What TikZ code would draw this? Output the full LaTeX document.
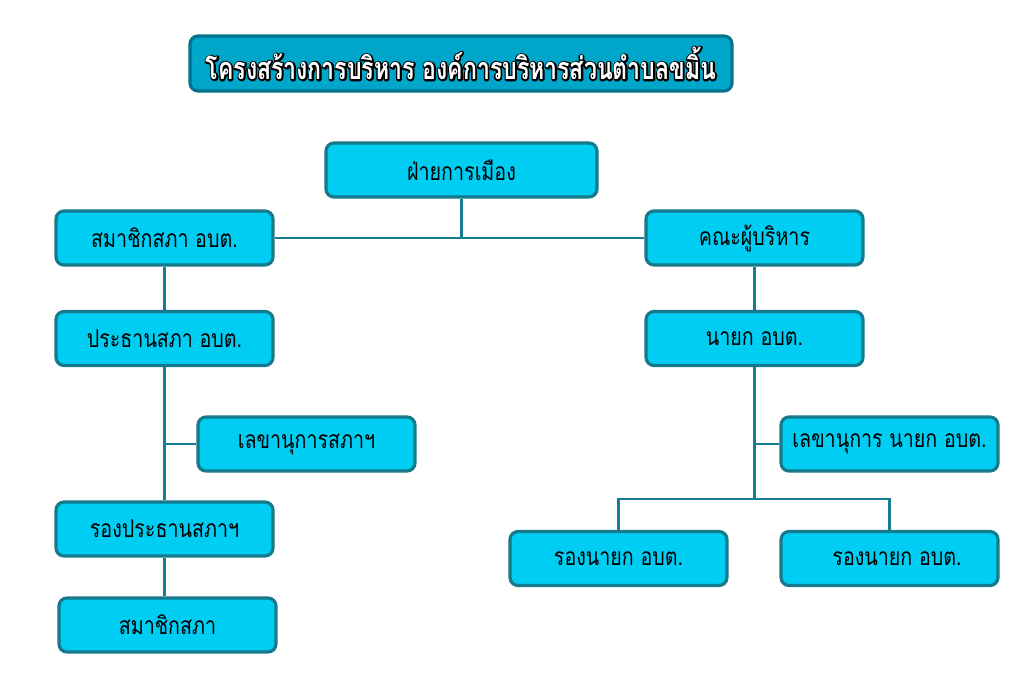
\documentclass[tikz,border=0pt]{standalone}
\usepackage{fontspec}
\usepackage{tikz}
\newfontfamily\thaifont[Script=Thai,FakeStretch=0.8]{Loma}
\newfontfamily\titlefont[Script=Thai,FakeStretch=0.75]{Loma}
\definecolor{boxfill}{HTML}{00CDF2}
\definecolor{boxline}{HTML}{17798C}
\definecolor{linkcol}{HTML}{157D94}
\definecolor{titlefill}{HTML}{00A6C9}
\newcommand{\outlined}[1]{\rlap{\special{pdf:literal direct 1 Tr 1.8 w 1 J 1 j 0 0 0 RG}#1\special{pdf:literal direct 0 Tr}}#1}
\tikzset{
  box/.style={draw=boxline, line width=1.8pt, fill=boxfill, rounded corners=0.16cm,
    minimum width=4.34cm, minimum height=1.08cm, font=\thaifont\fontsize{14}{16}\selectfont},
  link/.style={draw=linkcol, line width=1.4pt}
}
\begin{document}
\begin{tikzpicture}
\useasboundingbox (0,0) rectangle (20.24,-13.8);
\node[box, draw=titlefill!70!black, fill=titlefill, line width=1.8pt, minimum width=10.84cm, minimum height=1.1cm,
  text=white, font=\titlefont\bfseries\fontsize{17.5}{20}\selectfont] (title) at (9.22,-1.27)
  {\outlined{โครงสร้างการบริหาร องค์การบริหารส่วนตำบลขมิ้น}};
\node[box, minimum width=5.42cm] (pol) at (9.23,-3.40) {ฝ่ายการเมือง};
\node[box] (mem) at (3.29,-4.76) {สมาชิกสภา อบต.};
\node[box] (exe) at (15.09,-4.76) {คณะผู้บริหาร};
\node[box] (chair) at (3.29,-6.77) {ประธานสภา อบต.};
\node[box] (mayor) at (15.09,-6.77) {นายก อบต.};
\node[box] (secc) at (6.13,-8.88) {เลขานุการสภาฯ};
\node[box] (secm) at (17.79,-8.88) {เลขานุการ นายก อบต.};
\node[box] (vchair) at (3.29,-10.58) {รองประธานสภาฯ};
\node[box] (vm1) at (12.37,-11.17) {รองนายก อบต.};
\node[box] (vm2) at (17.79,-11.17) {\hspace*{0.3cm}รองนายก อบต.};
\node[box] (memb) at (3.35,-12.50) {สมาชิกสภา};
\coordinate (fork) at (15.09,-9.98);
% links
\draw[link] (mem.east) -- (exe.west);
\draw[link] (pol.south) -- (pol.south |- mem.east);
\draw[link] (mem.south) -- (chair.north);
\draw[link] (chair.south) -- (vchair.north);
\draw[link] (secc.west -| chair.south) -- (secc.west);
\draw[link] (vchair.south) -- (vchair.south |- memb.north);
\draw[link] (exe.south) -- (mayor.north);
\draw[link] (mayor.south) -- (fork);
\draw[link] (secm.west -| fork) -- (secm.west);
\draw[link] (vm1.north) -- (vm1.north |- fork) -- (vm2.north |- fork) -- (vm2.north);
\end{tikzpicture}
\end{document}
